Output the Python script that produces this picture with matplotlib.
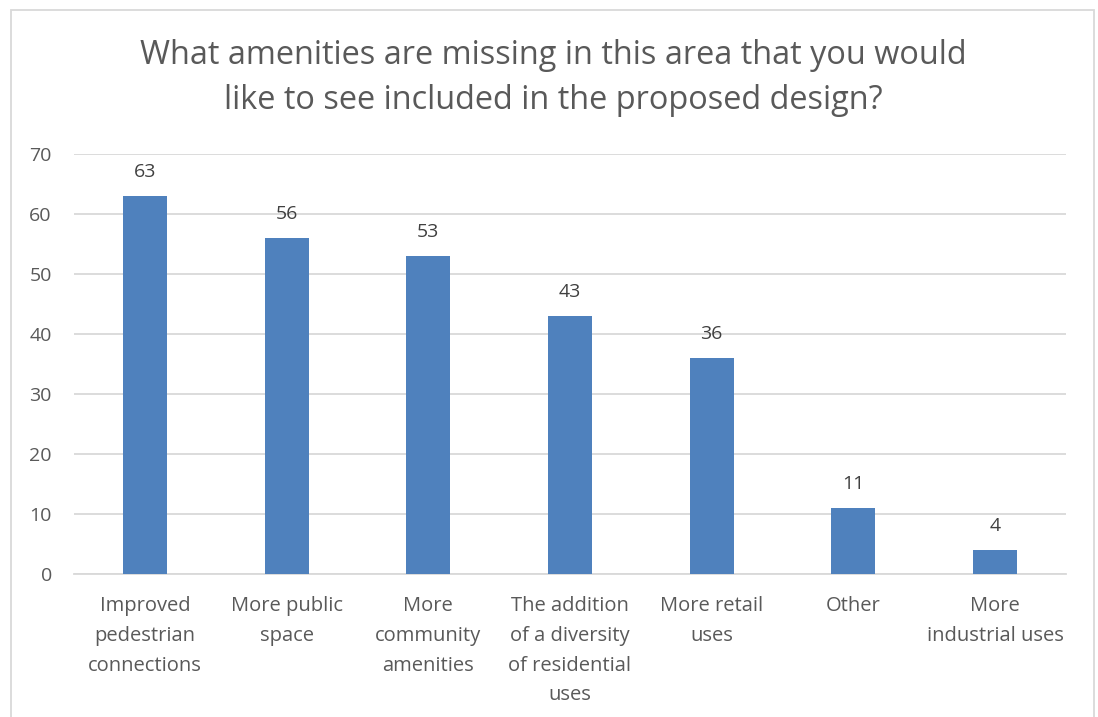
import matplotlib
matplotlib.use("Agg")
import matplotlib.pyplot as plt
from matplotlib.patches import Rectangle

plt.rcParams['font.family'] = ['Open Sans', 'DejaVu Sans']

categories = [
    "Improved\npedestrian\nconnections",
    "More public\nspace",
    "More\ncommunity\namenities",
    "The addition\nof a diversity\nof residential\nuses",
    "More retail\nuses",
    "Other",
    "More\nindustrial uses",
]
counts = [63, 56, 53, 43, 36, 11, 4]
title = "What amenities are missing in this area that you would\nlike to see included in the proposed design?"

text_col = "#595959"
grid_col = "#D9D9D9"
bar_col = "#4F81BD"

fig = plt.figure(figsize=(10.98, 7.17), dpi=100)
W, H = 1098, 717
ax = fig.add_axes([74 / W, 1 - 574 / H, (1066 - 74) / W, (574 - 154) / H])

x = range(len(categories))
bars = ax.bar(x, counts, width=0.31, color=bar_col, zorder=3)
ax.bar_label(bars, labels=[str(c) for c in counts], padding=11, fontsize=14, color="#404040")

ax.set_xlim(-0.5, len(categories) - 0.5)
ax.set_ylim(0, 70)
ax.set_yticks(range(0, 71, 10))
ax.yaxis.grid(True, color=grid_col, linewidth=1.3, zorder=0)
ax.set_xticks(list(x))
ax.set_xticklabels(categories)
for lbl in ax.get_xticklabels():
    lbl.set_fontsize(14.5)
    lbl.set_color(text_col)
    lbl.set_linespacing(1.65)
ax.tick_params(axis='y', labelsize=14, labelcolor=text_col, length=0, pad=16)
ax.tick_params(axis='x', length=0, pad=16)
for s in ["top", "right", "left"]:
    ax.spines[s].set_visible(False)
ax.spines["bottom"].set_color(grid_col)
ax.spines["bottom"].set_linewidth(1.3)

fig.text(553 / W, 1 - 78 / H, title, ha="center", va="center", fontsize=23.4,
         color=text_col, linespacing=1.45)

# chart border
fig.patches.append(Rectangle((11 / W, -0.05), (1094 - 11) / W, 1 - 10 / H + 0.05,
                             transform=fig.transFigure, fill=False,
                             edgecolor=grid_col, linewidth=1.3))

fig.savefig("out.png", dpi=100)
